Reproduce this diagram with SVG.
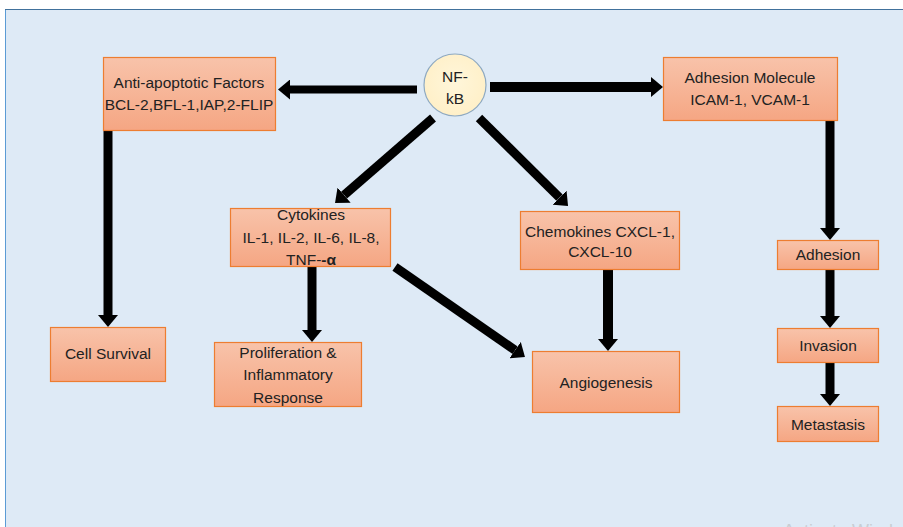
<svg xmlns="http://www.w3.org/2000/svg" width="903" height="527" viewBox="0 0 903 527">
<style>
.box{fill:url(#boxg);stroke:#ED7D31;stroke-width:1.2}
.t{font-family:"Liberation Sans",Arial,sans-serif;font-size:15.5px;fill:#222;text-anchor:middle}
.c{stroke:#000;fill:none}
</style>
<defs>
<linearGradient id="boxg" x1="0" y1="0" x2="0" y2="1">
<stop offset="0" stop-color="#F8C3AA"/>
<stop offset="1" stop-color="#F5A683"/>
</linearGradient>
<radialGradient id="circg" cx="0.5" cy="0.45" r="0.6">
<stop offset="0" stop-color="#FFF6DA"/>
<stop offset="1" stop-color="#FFEFC6"/>
</radialGradient>
<marker id="ah" markerUnits="userSpaceOnUse" markerWidth="12" markerHeight="20" viewBox="0 0 12 20" refX="0" refY="10" orient="auto">
<path d="M0,0 L12,10 L0,20 z" fill="#000"/>
</marker>
</defs>
<rect x="0" y="0" width="903" height="527" fill="#fff"/>
<rect x="5.5" y="9.5" width="900" height="520" fill="#DEEAF6" stroke="#5B9BD5" stroke-width="1"/>
<line x1="5" y1="9.5" x2="903" y2="9.5" stroke="#41719C" stroke-width="1.2"/>

<g id="connectors">
<line class="c" x1="417" y1="89.5" x2="290" y2="89.5" stroke-width="8" marker-end="url(#ah)"/>
<line class="c" x1="490" y1="87" x2="651" y2="87" stroke-width="10" marker-end="url(#ah)"/>
<line class="c" x1="433" y1="118" x2="344.1" y2="195.1" stroke-width="9" marker-end="url(#ah)"/>
<line class="c" x1="479" y1="118" x2="559.5" y2="197.6" stroke-width="9" marker-end="url(#ah)"/>
<line class="c" x1="395" y1="267" x2="515.1" y2="350.2" stroke-width="9" marker-end="url(#ah)"/>
<line class="c" x1="108" y1="131" x2="108" y2="315" stroke-width="9" marker-end="url(#ah)"/>
<line class="c" x1="312" y1="267" x2="312" y2="330" stroke-width="9" marker-end="url(#ah)"/>
<line class="c" x1="608" y1="270" x2="608" y2="339" stroke-width="10" marker-end="url(#ah)"/>
<line class="c" x1="830" y1="121" x2="830" y2="228" stroke-width="9" marker-end="url(#ah)"/>
<line class="c" x1="830" y1="270" x2="830" y2="316" stroke-width="9" marker-end="url(#ah)"/>
<line class="c" x1="830" y1="363" x2="830" y2="394" stroke-width="9" marker-end="url(#ah)"/>
</g>

<g id="nfkb">
<circle cx="455" cy="85" r="31" fill="url(#circg)" stroke="#8EA9C1" stroke-width="1.2"/>
<text class="t" x="455" y="82">NF-</text>
<text class="t" x="455" y="104">kB</text>
</g>

<g id="antiapoptotic">
<rect class="box" x="103.5" y="57.5" width="172" height="73"/>
<text class="t" x="189" y="88">Anti-apoptotic Factors</text>
<text class="t" x="189" y="110">BCL-2,BFL-1,IAP,2-FLIP</text>
</g>

<g id="adhesion-molecule">
<rect class="box" x="663.5" y="57.5" width="174" height="63"/>
<text class="t" x="750" y="83">Adhesion Molecule</text>
<text class="t" x="750" y="105">ICAM-1, VCAM-1</text>
</g>

<g id="cytokines">
<rect class="box" x="230.5" y="208.5" width="160" height="58"/>
<text class="t" x="311" y="220">Cytokines</text>
<text class="t" x="311" y="243">IL-1, IL-2, IL-6, IL-8,</text>
<text class="t" x="311" y="265">TNF-<tspan font-weight="bold">-α</tspan></text>
</g>

<g id="chemokines">
<rect class="box" x="520.5" y="211.5" width="159" height="58"/>
<text class="t" x="600" y="237">Chemokines CXCL-1,</text>
<text class="t" x="600" y="257">CXCL-10</text>
</g>

<g id="cell-survival">
<rect class="box" x="50.5" y="327.5" width="115" height="54"/>
<text class="t" x="108" y="359">Cell Survival</text>
</g>

<g id="proliferation">
<rect class="box" x="214.5" y="342.5" width="147" height="64"/>
<text class="t" x="288" y="358">Proliferation &amp;</text>
<text class="t" x="288" y="380">Inflammatory</text>
<text class="t" x="288" y="403">Response</text>
</g>

<g id="angiogenesis">
<rect class="box" x="532.5" y="351.5" width="147" height="61"/>
<text class="t" x="606" y="388">Angiogenesis</text>
</g>

<g id="adhesion">
<rect class="box" x="777.5" y="240.5" width="101" height="29"/>
<text class="t" x="828" y="260">Adhesion</text>
</g>

<g id="invasion">
<rect class="box" x="777.5" y="328.5" width="101" height="34"/>
<text class="t" x="828" y="351">Invasion</text>
</g>

<g id="metastasis">
<rect class="box" x="777.5" y="406.5" width="101" height="35"/>
<text class="t" x="828" y="430">Metastasis</text>
</g>

<text x="783" y="537" font-family="'Liberation Sans',Arial,sans-serif" font-size="18" fill="#C9CED4">Activate Windows</text>
</svg>
